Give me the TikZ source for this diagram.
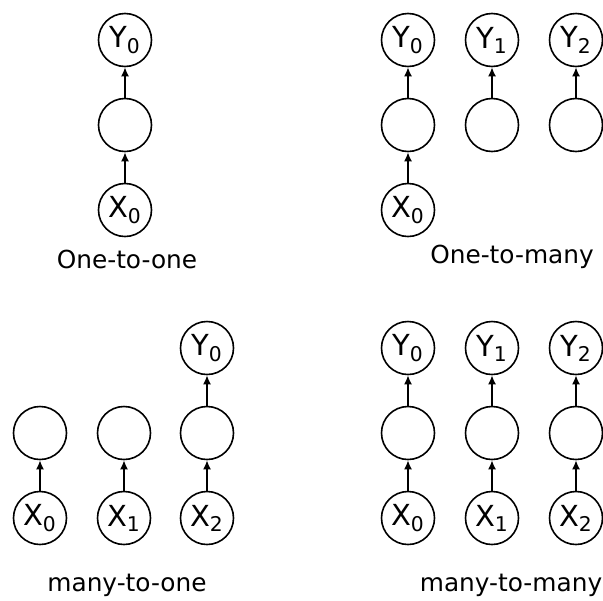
\documentclass[tikz,border=0pt]{standalone}
\usepackage{fontspec}
\setmainfont{DejaVu Sans}
\usepackage{tikz}
\usetikzlibrary{arrows.meta}
\tikzstyle{unit}=[circle, draw, inner sep=0pt, minimum size=26.5pt, line width=0.8pt, fill=white, font=\fontsize{14.5}{16}\selectfont]
\tikzstyle{link}=[-{Latex[length=4.5pt,width=4pt]}, line width=0.8pt]
\newcommand{\unit}{\node[unit]}

\begin{document}
\begin{tikzpicture}[x=0.5pt, y=-0.5pt, font=\fontsize{12.4}{14}\selectfont]
\useasboundingbox (0,0) rectangle (603,600);
% one-to-one
\unit (Ay0) at (125,40) {Y\textsubscript{0}};
\unit (Ah0) at (125,125) {};
\unit (Ax0) at (125,210) {X\textsubscript{0}};
\draw[link] (Ax0) -- (Ah0);
\draw[link] (Ah0) -- (Ay0);
\node (Alab) at (127,259) {One-to-one};
% one-to-many
\foreach \i/\px in {0/408,1/492,2/576}{
	\unit (By\i) at (\px,40) {Y\textsubscript{\i}};
	\unit (Bh\i) at (\px,125) {};
	\draw[link] (Bh\i) -- (By\i);
	}
\unit (Bx0) at (408,210) {X\textsubscript{0}};
\draw[link] (Bx0) -- (Bh0);
\node (Blab) at (512,257) {One-to-many};
% many-to-one
\foreach \i/\px in {0/40,1/124,2/207}{
	\unit (Ch\i) at (\px,433) {};
	\unit (Cx\i) at (\px,518) {X\textsubscript{\i}};
	\draw[link] (Cx\i) -- (Ch\i);
	}
\unit (Cy0) at (207,348) {Y\textsubscript{0}};
\draw[link] (Ch2) -- (Cy0);
\node (Clab) at (127,585) {many-to-one};
% many-to-many
\foreach \i/\px in {0/408,1/492,2/576}{
	\unit (Dy\i) at (\px,348) {Y\textsubscript{\i}};
	\unit (Dh\i) at (\px,433) {};
	\unit (Dx\i) at (\px,518) {X\textsubscript{\i}};
	\draw[link] (Dx\i) -- (Dh\i);
	\draw[link] (Dh\i) -- (Dy\i);
	}
\node (Dlab) at (511,585) {many-to-many};
\end{tikzpicture}
\end{document}
